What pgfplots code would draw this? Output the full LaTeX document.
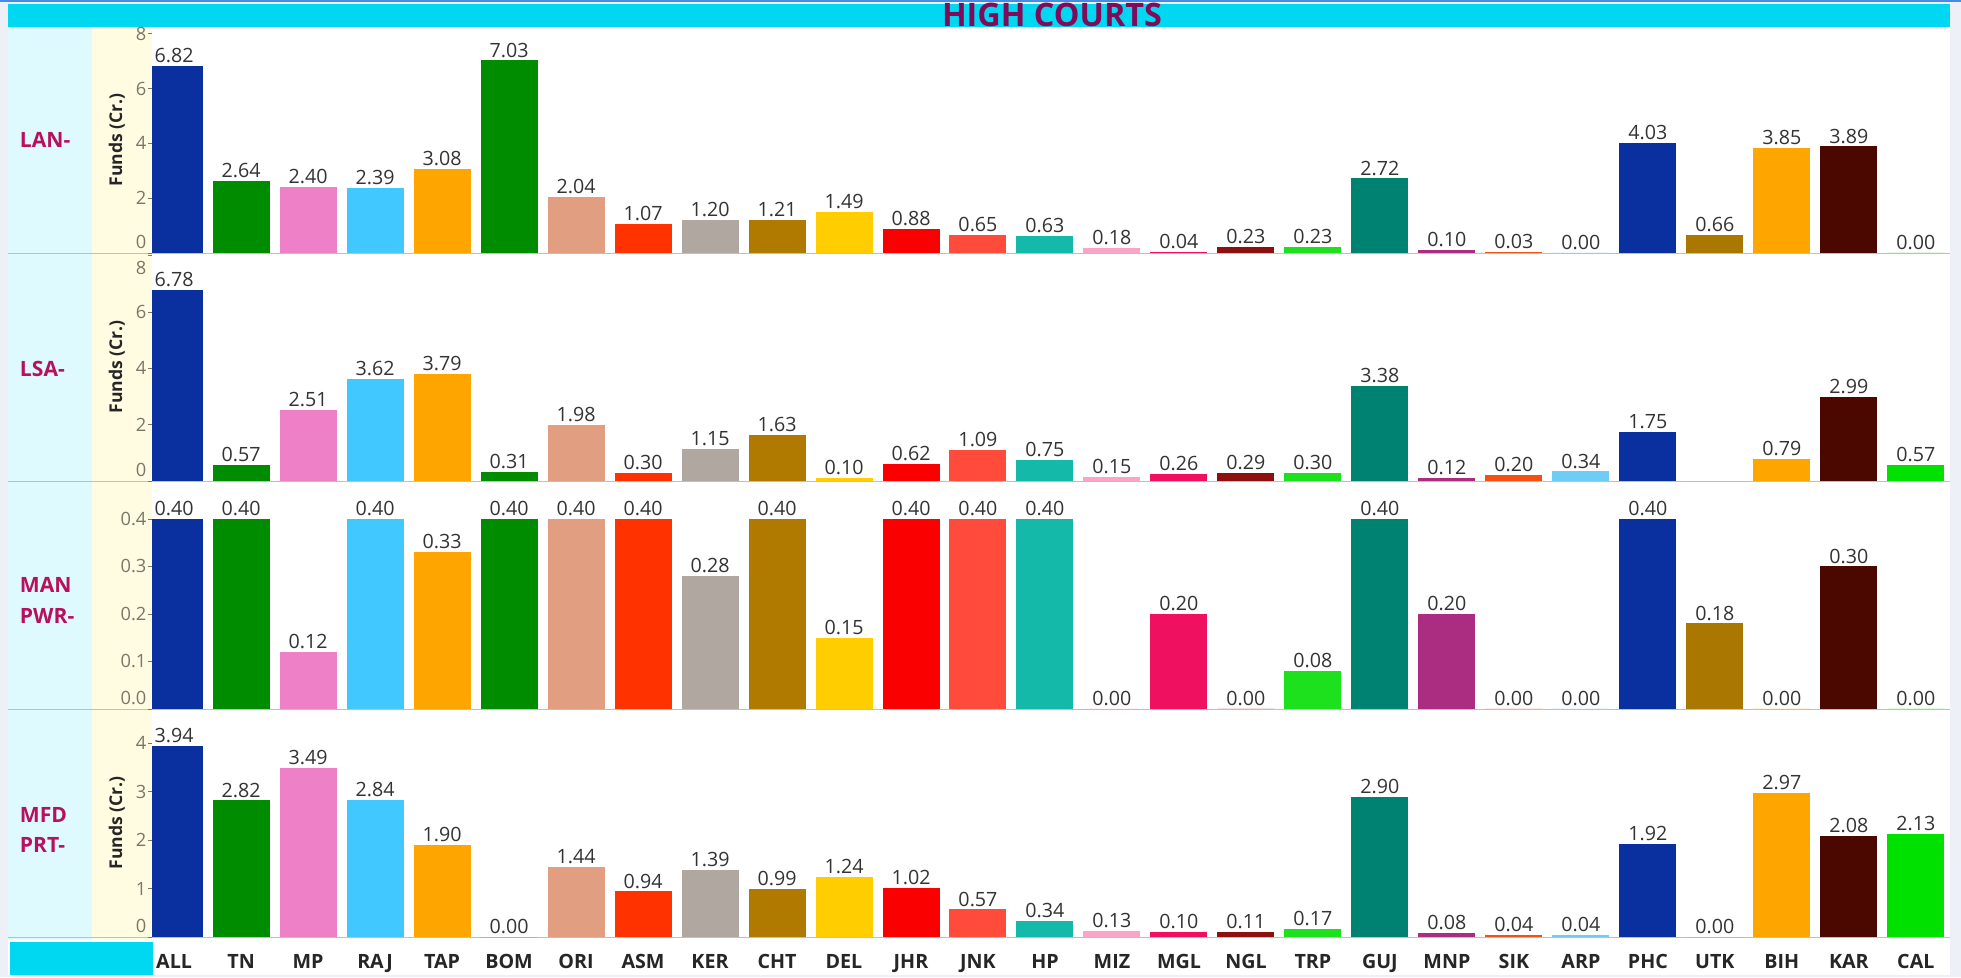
\documentclass[border=0pt]{standalone}
\usepackage{fontspec}
\setmainfont{Open Sans}
\usepackage{pgfplots}
\usepackage{pgfplotstable}
\pgfplotsset{compat=1.18}

% one colour per high court, same in every panel
\definecolor{c0}{RGB}{10,48,160}
\definecolor{c1}{RGB}{0,140,0}
\definecolor{c2}{RGB}{238,128,200}
\definecolor{c3}{RGB}{64,200,255}
\definecolor{c4}{RGB}{255,165,0}
\definecolor{c5}{RGB}{0,140,0}
\definecolor{c6}{RGB}{226,158,128}
\definecolor{c7}{RGB}{255,50,0}
\definecolor{c8}{RGB}{176,168,160}
\definecolor{c9}{RGB}{176,122,0}
\definecolor{c10}{RGB}{255,205,0}
\definecolor{c11}{RGB}{250,0,0}
\definecolor{c12}{RGB}{255,75,60}
\definecolor{c13}{RGB}{20,185,170}
\definecolor{c14}{RGB}{250,165,200}
\definecolor{c15}{RGB}{240,16,96}
\definecolor{c16}{RGB}{140,16,16}
\definecolor{c17}{RGB}{30,225,30}
\definecolor{c18}{RGB}{0,130,115}
\definecolor{c19}{RGB}{170,45,130}
\definecolor{c20}{RGB}{245,80,20}
\definecolor{c21}{RGB}{110,205,245}
\definecolor{c22}{RGB}{10,48,160}
\definecolor{c23}{RGB}{170,120,0}
\definecolor{c24}{RGB}{255,165,0}
\definecolor{c25}{RGB}{75,8,0}
\definecolor{c26}{RGB}{0,225,0}

\definecolor{rowlab}{RGB}{185,15,95}
\definecolor{titlecol}{RGB}{130,10,90}
\definecolor{barcyan}{RGB}{0,215,240}
\definecolor{colblue}{RGB}{222,250,255}
\definecolor{colcream}{RGB}{255,252,226}
\definecolor{framebg}{RGB}{238,240,247}
\definecolor{topline}{RGB}{70,140,230}
\definecolor{ticklab}{RGB}{120,120,105}

\pgfplotstableread{
idx name lan  lsa  man  mfd
0   ALL  6.82 6.78 0.40 3.94
1   TN   2.64 0.57 0.40 2.82
2   MP   2.40 2.51 0.12 3.49
3   RAJ  2.39 3.62 0.40 2.84
4   TAP  3.08 3.79 0.33 1.90
5   BOM  7.03 0.31 0.40 0.00
6   ORI  2.04 1.98 0.40 1.44
7   ASM  1.07 0.30 0.40 0.94
8   KER  1.20 1.15 0.28 1.39
9   CHT  1.21 1.63 0.40 0.99
10  DEL  1.49 0.10 0.15 1.24
11  JHR  0.88 0.62 0.40 1.02
12  JNK  0.65 1.09 0.40 0.57
13  HP   0.63 0.75 0.40 0.34
14  MIZ  0.18 0.15 0.00 0.13
15  MGL  0.04 0.26 0.20 0.10
16  NGL  0.23 0.29 0.00 0.11
17  TRP  0.23 0.30 0.08 0.17
18  GUJ  2.72 3.38 0.40 2.90
19  MNP  0.10 0.12 0.20 0.08
20  SIK  0.03 0.20 0.00 0.04
21  ARP  0.00 0.34 0.00 0.04
22  PHC  4.03 1.75 0.40 1.92
23  UTK  0.66 nan  0.18 0.00
24  BIH  3.85 0.79 0.00 2.97
25  KAR  3.89 2.99 0.30 2.08
26  CAL  0.00 0.57 0.00 2.13
}\hc

% one bar per court so each gets its own colour
\newcommand{\hcbars}[1]{%
  \pgfplotsinvokeforeach{0,...,26}{%
    \addplot[fill=c##1, draw=none, bar shift=0pt, restrict x to domain=##1:##1]
      table[x=idx, y=#1] {\hc};
  }}

\pgfplotsset{
  hcpanel/.style={
    scale only axis, width=449.5mm, anchor=south west,
    xmin=-0.33, xmax=26.51, ymin=0, enlargelimits=false,
    axis line style={draw=none},
    xtick=\empty,
    tick align=outside, major tick length=1mm, ytick pos=left,
    ytick style={draw=ticklab, line width=0.5pt},
    yticklabel style={font=\fontsize{13}{14}\selectfont, text=ticklab, inner sep=1pt},
    /pgf/number format/assume math mode=true,
    ybar, bar width=14.25mm,
    nodes near coords={\pgfmathprintnumber[fixed,zerofill,precision=2]{\pgfplotspointmeta}},
    every node near coord/.append style={font=\fontsize{14}{15}\selectfont, text=black!80, inner sep=2pt},
    ylabel={Funds (Cr.)},
    ylabel style={at={(axis description cs:-0.0195,0.5)}, anchor=center,
      font=\bfseries\fontsize{12.5}{13}\selectfont, text=black!85},
  },
  % the 0 label sits a little above its tick
  zeroraise/.style={extra y ticks={0},
    extra y tick style={yticklabel style={yshift=2.75mm}}},
}

\begin{document}
\begin{tikzpicture}[x=0.25mm, y=0.25mm]
\useasboundingbox (0,0) rectangle (1961,977);
\fill[framebg] (0,0) rectangle (1961,977);
\fill[topline] (0,975) rectangle (1961,977);
\fill[white] (8,2) rectangle (1950,973);
\fill[barcyan] (8,950) rectangle (1950,973);
\fill[colblue] (8,37) rectangle (92,950);
\fill[colcream] (92,37) rectangle (152,950);
\fill[barcyan] (10,2) rectangle (153,35);
\foreach \yy in {724,496,268,40} \draw[black!25, line width=0.6pt] (8,\yy) -- (1950,\yy);

\node[anchor=base, font=\bfseries\fontsize{23}{24}\selectfont, text=titlecol] at (1052,950) {HIGH COURTS};

\begin{scope}[every node/.style={anchor=west, align=left, text=rowlab,
    font=\bfseries\fontsize{15}{22}\selectfont}]
\node at (15,837) {LAN-};
\node at (15,608) {LSA-};
\node at (15,377) {MAN\\PWR-};
\node at (15,147) {MFD\\PRT-};
\end{scope}

\begin{axis}[hcpanel, zeroraise, at={(38mm,181mm)}, height=56.5mm, ymax=8.25, ytick={2,4,6,8}]
\hcbars{lan}
\end{axis}

\begin{axis}[hcpanel, at={(38mm,124mm)}, height=57mm, ymax=8.09, ytick={2,4,6},
  extra y ticks={0,8},
  extra y tick style={yticklabel style={yshift={ifthenelse(\tick>4,-3,2.75)*1mm}}}]
\hcbars{lsa}
\end{axis}

\begin{axis}[hcpanel, zeroraise, at={(38mm,67mm)}, height=57mm, ymax=0.48, ylabel={},
  ytick={0.1,0.2,0.3,0.4},
  yticklabel style={/pgf/number format/fixed, /pgf/number format/zerofill,
    /pgf/number format/precision=1}]
\hcbars{man}
\end{axis}

\begin{axis}[hcpanel, zeroraise, at={(38mm,10mm)}, height=57mm, ymax=4.71, ytick={1,2,3,4},
  xtick={0,...,26},
  xticklabels={ALL,TN,MP,RAJ,TAP,BOM,ORI,ASM,KER,CHT,DEL,JHR,JNK,HP,MIZ,MGL,NGL,TRP,GUJ,MNP,SIK,ARP,PHC,UTK,BIH,KAR,CAL},
  xtick style={draw=none},
  xticklabel style={anchor=base, yshift=-6.75mm, font=\bfseries\fontsize{14}{15}\selectfont, text=black!85}]
\hcbars{mfd}
\end{axis}
\end{tikzpicture}
\end{document}
